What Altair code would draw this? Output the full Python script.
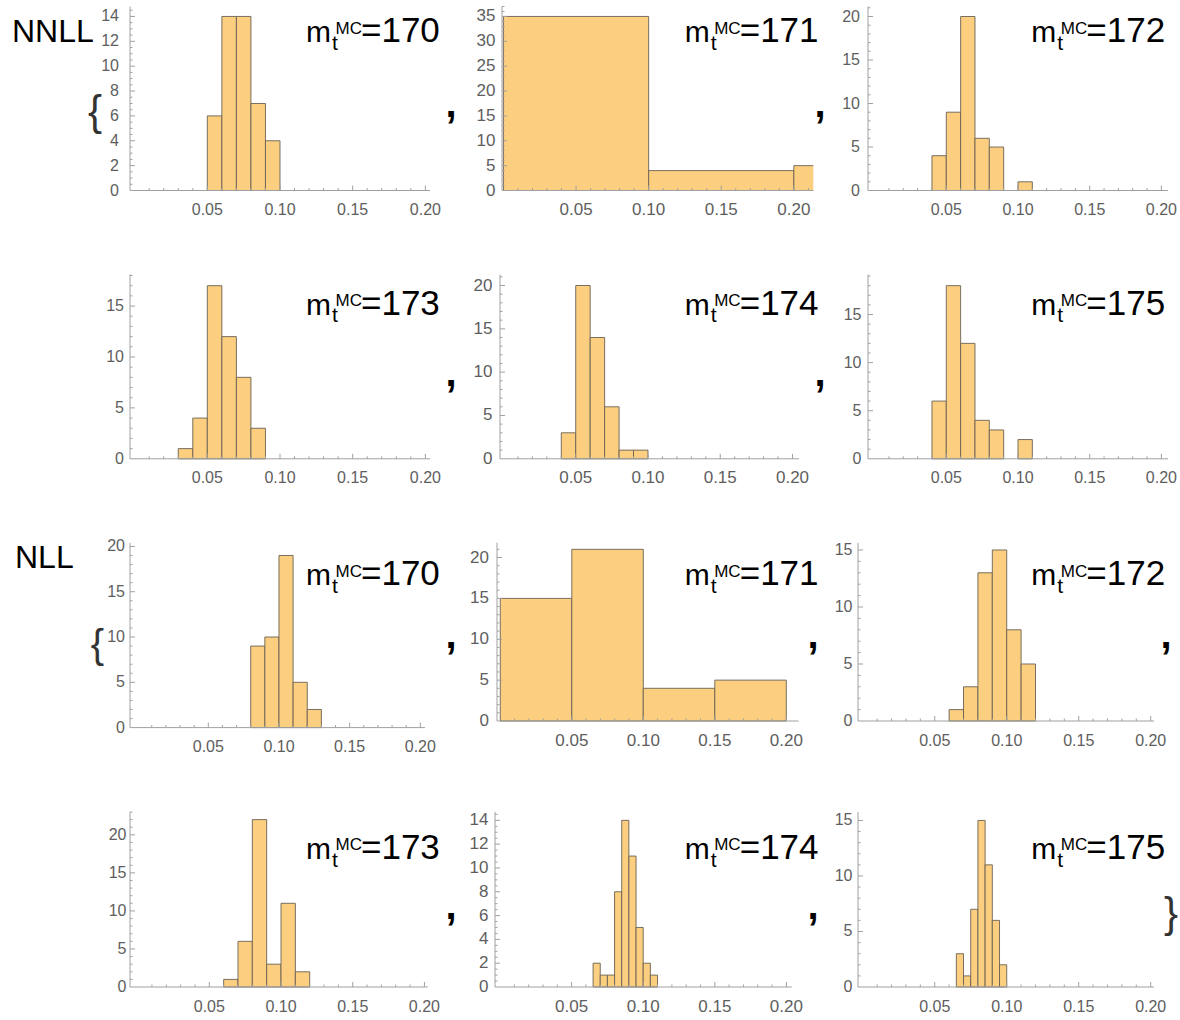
import altair as alt
import pandas as pd

FONT = "Liberation Sans"
FILL = "#FBCF7F"
EDGE = "#6a6155"
AXIS = "#a0a0a0"
LABEL = "#5e5e5e"

# ---------------- data (bin left edges, bin widths, counts) ----------------
nnll_170_lo = [0.05, 0.06, 0.07, 0.08, 0.09]
nnll_170_n = [6, 14, 14, 7, 4]
nnll_171_lo = [0.0, 0.1, 0.2]
nnll_171_n = [35, 4, 5]
nnll_172_lo = [0.04, 0.05, 0.06, 0.07, 0.08, 0.10]
nnll_172_n = [4, 9, 20, 6, 5, 1]
nnll_173_lo = [0.03, 0.04, 0.05, 0.06, 0.07, 0.08]
nnll_173_n = [1, 4, 17, 12, 8, 3]
nnll_174_lo = [0.04, 0.05, 0.06, 0.07, 0.08, 0.09]
nnll_174_n = [3, 20, 14, 6, 1, 1]
nnll_175_lo = [0.04, 0.05, 0.06, 0.07, 0.08, 0.10]
nnll_175_n = [6, 18, 12, 4, 3, 2]

nll_170_lo = [0.08, 0.09, 0.10, 0.11, 0.12]
nll_170_n = [9, 10, 19, 5, 2]
nll_171_lo = [0.0, 0.05, 0.10, 0.15]
nll_171_n = [15, 21, 4, 5]
nll_172_lo = [0.06, 0.07, 0.08, 0.09, 0.10, 0.11]
nll_172_n = [1, 3, 13, 15, 8, 5]
nll_173_lo = [0.06, 0.07, 0.08, 0.09, 0.10, 0.11]
nll_173_n = [1, 6, 22, 3, 11, 2]
nll_174_lo = [0.065, 0.07, 0.075, 0.08, 0.085, 0.09, 0.095, 0.10, 0.105]
nll_174_n = [2, 1, 1, 8, 14, 11, 5, 2, 1]
nll_175_lo = [0.065, 0.07, 0.075, 0.08, 0.085, 0.09, 0.095]
nll_175_n = [3, 1, 7, 15, 11, 6, 2]

masses = ["170", "171", "172", "173", "174", "175"]
x_tick_values = [0.05, 0.10, 0.15, 0.20]
x_tick_labels = ["0.05", "0.10", "0.15", "0.20"]
y_ticks_2 = [0, 2, 4, 6, 8, 10, 12, 14]
y_ticks_5_15 = [0, 5, 10, 15]
y_ticks_5_20 = [0, 5, 10, 15, 20]
y_ticks_5_35 = [0, 5, 10, 15, 20, 25, 30, 35]

# ---------------- panel definitions ----------------
specs = [
    dict(lo=nnll_170_lo, n=nnll_170_n, bw=0.01, xdom=[-0.0032, 0.2032], W=300, H=184, ytop=14.8, ymaj=y_ticks_2, ymin=0.5, lp=11),
    dict(lo=nnll_171_lo, n=nnll_171_n, bw=0.1, xdom=[-0.001, 0.2134], W=311.3, H=184, ytop=37.0, ymaj=y_ticks_5_35, ymin=1, lp=6.5, clip=True),
    dict(lo=nnll_172_lo, n=nnll_172_n, bw=0.01, xdom=[-0.0046, 0.2046], W=300, H=184, ytop=21.15, ymaj=y_ticks_5_20, ymin=1, lp=8),
    dict(lo=nnll_173_lo, n=nnll_173_n, bw=0.01, xdom=[-0.0032, 0.2032], W=300, H=184.3, ytop=18.1, ymaj=y_ticks_5_15, ymin=1, lp=6),
    dict(lo=nnll_174_lo, n=nnll_174_n, bw=0.01, xdom=[-0.0024, 0.2045], W=299, H=184.3, ytop=21.27, ymaj=y_ticks_5_20, ymin=1, lp=7.5),
    dict(lo=nnll_175_lo, n=nnll_175_n, bw=0.01, xdom=[-0.0046, 0.2046], W=300, H=184.3, ytop=19.16, ymaj=y_ticks_5_15, ymin=1, lp=6.5),
    dict(lo=nll_170_lo, n=nll_170_n, bw=0.01, xdom=[-0.0054, 0.2033], W=295, H=184.8, ytop=20.4, ymaj=y_ticks_5_20, ymin=1, lp=5),
    dict(lo=nll_171_lo, n=nll_171_n, bw=0.05, xdom=[-0.0023, 0.2086], W=301.6, H=178.2, ytop=21.8, ymaj=y_ticks_5_20, ymin=1, lp=8),
    dict(lo=nll_172_lo, n=nll_172_n, bw=0.01, xdom=[-0.0033, 0.2023], W=296, H=178.2, ytop=15.63, ymaj=y_ticks_5_15, ymin=1, lp=5.5),
    dict(lo=nll_173_lo, n=nll_173_n, bw=0.01, xdom=[-0.0053, 0.2025], W=298, H=175, ytop=23.0, ymaj=y_ticks_5_20, ymin=1, lp=3.5),
    dict(lo=nll_174_lo, n=nll_174_n, bw=0.005, xdom=[-0.0035, 0.2037], W=296.7, H=175, ytop=14.7, ymaj=y_ticks_2, ymin=0.5, lp=6.5),
    dict(lo=nll_175_lo, n=nll_175_n, bw=0.005, xdom=[-0.0033, 0.2023], W=296, H=175, ytop=15.76, ymaj=y_ticks_5_15, ymin=1, lp=5.5),
]
# tick-label font size per column (middle column images are wider in the original)
col_font = [16, 17, 16]

# gaps between panels in each row (pixels between plot areas)
row_gaps = [(71.7, 53.7), (69.3, 68.4), (71.7, 59.0), (67.0, 65.6)]
row_spacing = [55.0, 51.3, 55.2]
ref_row_top = [6, 275, 543.5, 813]
col1_left = 130
label_x = [306, 684.7, 1031.3]
label_base = [41.7, 315, 586, 860]


def txt(s, x, y, size, align="left", baseline="alphabetic", color="black", opacity=1.0, weight="normal"):
    return alt.Chart(pd.DataFrame({"t": [s]})).mark_text(
        align=align, baseline=baseline, font=FONT, fontSize=size, color=color, opacity=opacity,
        fontWeight=weight
    ).encode(text="t:N", x=alt.value(x), y=alt.value(y))


def panel(spec, fs, extra=()):
    lo, cnt, bw = spec["lo"], spec["n"], spec["bw"]
    W, H = spec["W"], spec["H"]
    xdom = spec["xdom"]
    ytop = spec["ytop"]
    df = pd.DataFrame({"x0": lo, "x1": [round(a + bw, 4) for a in lo], "n": cnt})
    xs = alt.Scale(domain=xdom, nice=False, zero=False)
    ys = alt.Scale(domain=[0, ytop], nice=False, zero=False)

    bars = alt.Chart(df).mark_rect(fill=FILL, stroke=EDGE, strokeWidth=0.9, clip=spec.get("clip", False)).encode(
        x=alt.X("x0:Q", scale=xs, axis=None), x2="x1:Q",
        y=alt.Y("n:Q", scale=ys, axis=None), y2=alt.datum(0))

    # axis lines (Mathematica-style axes)
    xline = alt.Chart(pd.DataFrame({"v": [0]})).mark_rule(color=AXIS, strokeWidth=1).encode(
        x=alt.value(0), x2=alt.value(W), y=alt.value(H))
    yline = alt.Chart(pd.DataFrame({"v": [0]})).mark_rule(color=AXIS, strokeWidth=1).encode(
        x=alt.value(0), y=alt.value(0), y2=alt.value(H))

    # tick labels
    xlab_df = pd.DataFrame({"v": x_tick_values, "s": x_tick_labels})
    xlabs = alt.Chart(xlab_df).mark_text(font=FONT, fontSize=fs, color=LABEL, align="center", baseline="top").encode(
        x=alt.X("v:Q", scale=xs, axis=None), y=alt.value(H + 11.5), text="s:N")
    ylab_df = pd.DataFrame({"v": spec["ymaj"], "s": [str(v) for v in spec["ymaj"]]})
    ylabs = alt.Chart(ylab_df).mark_text(font=FONT, fontSize=fs, color=LABEL, align="right", baseline="middle").encode(
        y=alt.Y("v:Q", scale=ys, axis=None), x=alt.value(-spec["lp"]), text="s:N")

    # inward ticks (major and minor)
    xmaj = [v for v in x_tick_values if xdom[0] <= v <= xdom[1]]
    xmin = [round(0.01 * k, 2) for k in range(1, 22)]
    xmin = [v for v in xmin if xdom[0] <= v <= xdom[1] and all(abs(v - m) > 1e-9 for m in x_tick_values)]
    step = spec["ymin"]
    ymin = [round(step * k, 2) for k in range(1, int(ytop / step) + 1)]
    ymin = [v for v in ymin if v <= ytop and all(abs(v - m) > 1e-9 for m in spec["ymaj"])]
    ymaj = [v for v in spec["ymaj"] if v > 0]

    def xt(vals, L):
        return alt.Chart(pd.DataFrame({"v": vals})).mark_rule(color=AXIS, strokeWidth=1).encode(
            x=alt.X("v:Q", scale=xs, axis=None), y=alt.value(H), y2=alt.value(H - L))

    def yt(vals, L):
        return alt.Chart(pd.DataFrame({"v": vals})).mark_rule(color=AXIS, strokeWidth=1).encode(
            y=alt.Y("v:Q", scale=ys, axis=None), x=alt.value(0), x2=alt.value(L))

    layers = [bars, xline, yline, xt(xmaj, 5), xt(xmin, 2.5), yt(ymaj, 5), yt(ymin, 2.5), xlabs, ylabs] + list(extra)
    return alt.layer(*layers).properties(width=W, height=H)


def spacer(w):
    return alt.Chart(pd.DataFrame({"v": [0]})).mark_point(size=1, opacity=0).encode(
        x=alt.value(1), y=alt.value(2)).properties(width=w, height=4)


def row_annotations(r):
    top = ref_row_top[r]
    out = []
    # invisible anchor so every row has the same left edge
    out.append(txt("NNLL", 12 - col1_left, 35.7, 32, opacity=0))
    base = label_base[r] - top
    for c in range(3):
        mx = label_x[c] - col1_left
        out.append(txt("m", mx, base, 30))
        out.append(txt("t", mx + 26, base + 7.5, 21))
        out.append(txt("MC", mx + 29.5, base - 8.6, 17))
        out.append(txt("=" + masses[(r % 2) * 3 + c], mx + 55, base, 35))
    if r == 0:
        out.append(txt("NNLL", 12 - col1_left, 41.7 - top, 32))
        out.append(txt("{", 95 - col1_left, 124 - top, 42, align="center", color="#333333"))
        for cx in (451, 820):
            out.append(txt(",", cx - col1_left, 116 - top, 40, align="center", weight="bold"))
    elif r == 1:
        for cx in (451, 820):
            out.append(txt(",", cx - col1_left, 386 - top, 40, align="center", weight="bold"))
    elif r == 2:
        out.append(txt("NLL", 15 - col1_left, 569 - top, 32))
        out.append(txt("{", 97.5 - col1_left, 658.6 - top, 40, align="center", color="#333333"))
        for cx in (451, 813, 1166):
            out.append(txt(",", cx - col1_left, 649 - top, 40, align="center", weight="bold"))
    else:
        for cx in (451, 813):
            out.append(txt(",", cx - col1_left, 919.5 - top, 40, align="center", weight="bold"))
        out.append(txt("}", 1178 - col1_left, 928 - top, 42, align="right", color="#333333"))
    return out


rows = []
for r in range(4):
    p1 = panel(specs[3 * r], col_font[0], row_annotations(r))
    p2 = panel(specs[3 * r + 1], col_font[1])
    p3 = panel(specs[3 * r + 2], col_font[2])
    g1, g2 = row_gaps[r]
    rows.append(alt.hconcat(p1, spacer(g1), p2, spacer(g2), p3, spacing=0, bounds="flush"))

inner = alt.vconcat(rows[2], rows[3], spacing=row_spacing[2])
mid = alt.vconcat(rows[1], inner, spacing=row_spacing[1])
chart = alt.vconcat(rows[0], mid, spacing=row_spacing[0]).properties(
    padding={"left": 12, "top": 5.5, "right": 0, "bottom": 0},
    background="white",
).configure_view(strokeWidth=0)

chart.save("out.html", embed_options={"renderer": "svg", "actions": False})
